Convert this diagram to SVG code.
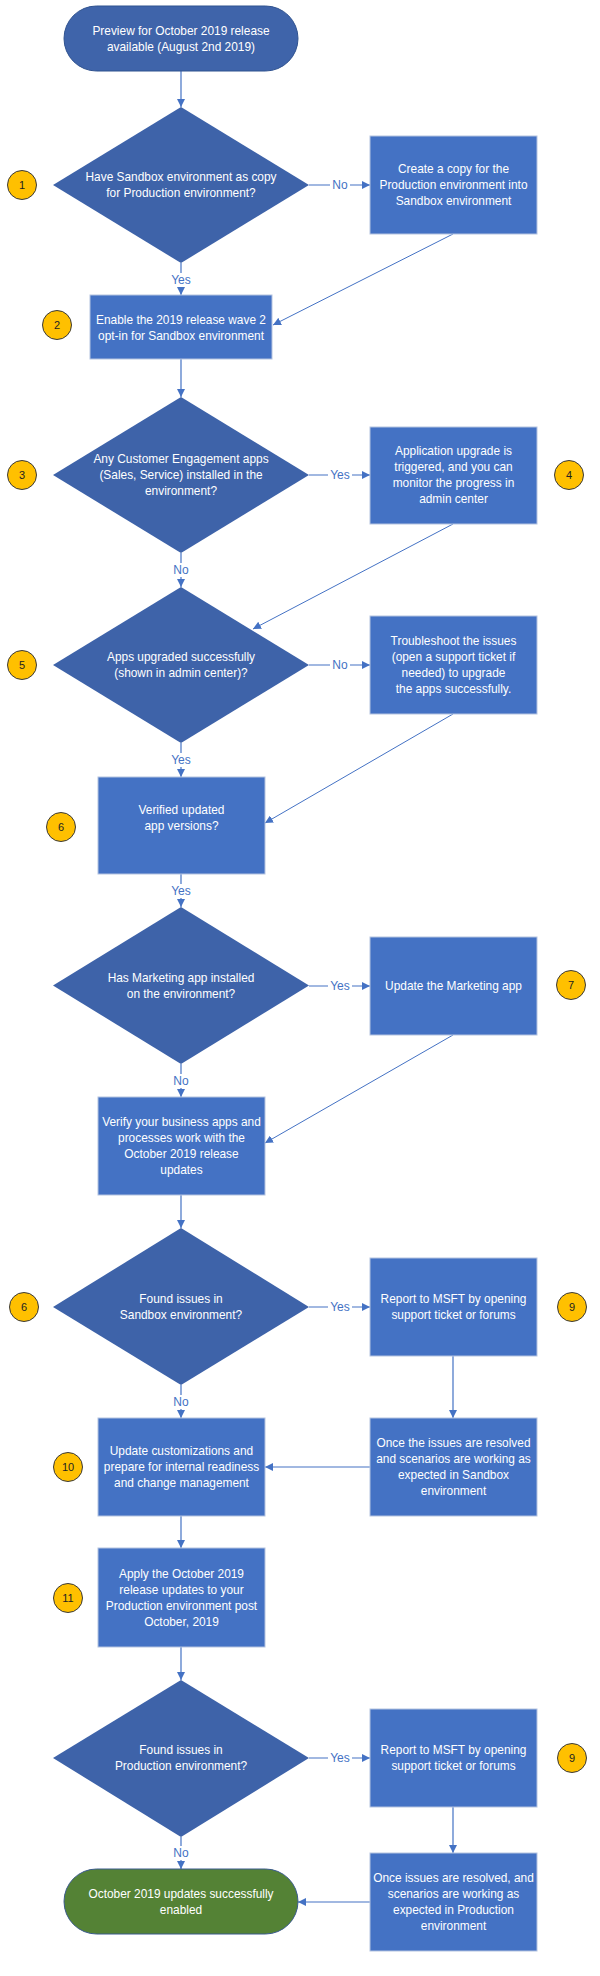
<svg xmlns="http://www.w3.org/2000/svg" width="600" height="1976" viewBox="0 0 600 1976">
<defs>
<marker id="ah" viewBox="0 0 10 10" refX="10" refY="5" markerWidth="8" markerHeight="8" markerUnits="userSpaceOnUse" orient="auto"><path d="M0,0 L10,5 L0,10 z" fill="#4472C4"/></marker>
<style>
.term{fill:#3F64AA;stroke:#2F528F;stroke-width:1}
.endt{fill:#548235;stroke:#3A5A8C;stroke-width:1}
.dia{fill:#3E63A9;stroke:none}
.box{fill:#4472C4;stroke:#B4C3E0;stroke-width:1}
.t{font-family:"Liberation Sans",Arial,sans-serif;font-size:11.9px;fill:#FFFFFF;text-anchor:middle}
.cir{fill:#FFC000;stroke:#3A3A3A;stroke-width:1}
.n{font-family:"Liberation Sans",Arial,sans-serif;font-size:11px;fill:#222222;text-anchor:middle}
.c{fill:none;stroke:#4472C4;stroke-width:1.2;marker-end:url(#ah)}
.cd{fill:none;stroke:#4472C4;stroke-width:1;marker-end:url(#ah)}
.lb{font-family:"Liberation Sans",Arial,sans-serif;font-size:12px;fill:#4472C4;text-anchor:middle}
.bg{fill:#FFFFFF}
</style>
</defs>
<rect width="600" height="1976" fill="#FFFFFF"/>
<g id="connectors">
<path class="c" d="M181,71 V107"/>
<path class="c" d="M309,185 H370"/><rect class="bg" x="330" y="178" width="20" height="14"/><text class="lb" x="340" y="189">No</text>
<path class="c" d="M181,263 V295"/><rect class="bg" x="169" y="273" width="24" height="14"/><text class="lb" x="181" y="284">Yes</text>
<path class="cd" d="M453,234 L273,325"/>
<path class="c" d="M181,359 V397"/>
<path class="c" d="M309,475 H370"/><rect class="bg" x="328" y="468" width="24" height="14"/><text class="lb" x="340" y="479">Yes</text>
<path class="c" d="M181,553 V587"/><rect class="bg" x="171" y="563" width="20" height="14"/><text class="lb" x="181" y="574">No</text>
<path class="cd" d="M453,524 L253,629"/>
<path class="c" d="M309,665 H370"/><rect class="bg" x="330" y="658" width="20" height="14"/><text class="lb" x="340" y="669">No</text>
<path class="c" d="M181,743 V777"/><rect class="bg" x="169" y="753" width="24" height="14"/><text class="lb" x="181" y="764">Yes</text>
<path class="cd" d="M453,714 L265,823"/>
<path class="c" d="M181,874 V907"/><rect class="bg" x="169" y="884" width="24" height="14"/><text class="lb" x="181" y="895">Yes</text>
<path class="c" d="M309,986 H370"/><rect class="bg" x="328" y="979" width="24" height="14"/><text class="lb" x="340" y="990">Yes</text>
<path class="c" d="M181,1064 V1097"/><rect class="bg" x="171" y="1074" width="20" height="14"/><text class="lb" x="181" y="1085">No</text>
<path class="cd" d="M453,1035 L265,1143"/>
<path class="c" d="M181,1195 V1228"/>
<path class="c" d="M309,1307 H370"/><rect class="bg" x="328" y="1300" width="24" height="14"/><text class="lb" x="340" y="1311">Yes</text>
<path class="c" d="M181,1385 V1418"/><rect class="bg" x="171" y="1395" width="20" height="14"/><text class="lb" x="181" y="1406">No</text>
<path class="c" d="M453,1356 V1418"/>
<path class="c" d="M370,1467 H265"/>
<path class="c" d="M181,1516 V1548"/>
<path class="c" d="M181,1647 V1680"/>
<path class="c" d="M309,1758 H370"/><rect class="bg" x="328" y="1751" width="24" height="14"/><text class="lb" x="340" y="1762">Yes</text>
<path class="c" d="M181,1837 V1869"/><rect class="bg" x="171" y="1846" width="20" height="14"/><text class="lb" x="181" y="1857">No</text>
<path class="c" d="M453,1807 V1853"/>
<path class="c" d="M370,1902 H298"/>
</g>
<g id="start"><rect class="term" x="64" y="6" width="234" height="65" rx="32.5"/><text class="t" x="181" y="35">Preview for October 2019 release</text><text class="t" x="181" y="51">available (August 2nd 2019)</text></g>
<g id="d1"><polygon class="dia" points="181,107 309,185 181,263 53,185"/><text class="t" x="181" y="181">Have Sandbox environment as copy</text><text class="t" x="181" y="197">for Production environment?</text></g>
<g id="b1"><rect class="box" x="370" y="136" width="167" height="98"/><text class="t" x="453.5" y="173">Create a copy for the</text><text class="t" x="453.5" y="189">Production environment into</text><text class="t" x="453.5" y="205">Sandbox environment</text></g>
<g id="b2"><rect class="box" x="90" y="295" width="182" height="64"/><text class="t" x="181" y="324">Enable the 2019 release wave 2</text><text class="t" x="181" y="340">opt-in for Sandbox environment</text></g>
<g id="d3"><polygon class="dia" points="181,397 309,475 181,553 53,475"/><text class="t" x="181" y="463">Any Customer Engagement apps</text><text class="t" x="181" y="479">(Sales, Service) installed in the</text><text class="t" x="181" y="495">environment?</text></g>
<g id="b4"><rect class="box" x="370" y="427" width="167" height="97"/><text class="t" x="453.5" y="455">Application upgrade is</text><text class="t" x="453.5" y="471">triggered, and you can</text><text class="t" x="453.5" y="487">monitor the progress in</text><text class="t" x="453.5" y="503">admin center</text></g>
<g id="d5"><polygon class="dia" points="181,587 309,665 181,743 53,665"/><text class="t" x="181" y="661">Apps upgraded successfully</text><text class="t" x="181" y="677">(shown in admin center)?</text></g>
<g id="b6"><rect class="box" x="370" y="616" width="167" height="98"/><text class="t" x="453.5" y="645">Troubleshoot the issues</text><text class="t" x="453.5" y="661">(open a support ticket if</text><text class="t" x="453.5" y="677">needed) to upgrade</text><text class="t" x="453.5" y="693">the apps successfully.</text></g>
<g id="bv"><rect class="box" x="98" y="777" width="167" height="97"/><text class="t" x="181.5" y="814">Verified updated</text><text class="t" x="181.5" y="830">app versions?</text></g>
<g id="d7"><polygon class="dia" points="181,907 309,985.5 181,1064 53,985.5"/><text class="t" x="181" y="982">Has Marketing app installed</text><text class="t" x="181" y="998">on the environment?</text></g>
<g id="b7"><rect class="box" x="370" y="937" width="167" height="98"/><text class="t" x="453.5" y="990">Update the Marketing app</text></g>
<g id="b8"><rect class="box" x="98" y="1097" width="167" height="98"/><text class="t" x="181.5" y="1126">Verify your business apps and</text><text class="t" x="181.5" y="1142">processes work with the</text><text class="t" x="181.5" y="1158">October 2019 release</text><text class="t" x="181.5" y="1174">updates</text></g>
<g id="d9"><polygon class="dia" points="181,1228 309,1307 181,1385 53,1307"/><text class="t" x="181" y="1303">Found issues in</text><text class="t" x="181" y="1319">Sandbox environment?</text></g>
<g id="b9"><rect class="box" x="370" y="1258" width="167" height="98"/><text class="t" x="453.5" y="1303">Report to MSFT by opening</text><text class="t" x="453.5" y="1319">support ticket or forums</text></g>
<g id="b10"><rect class="box" x="98" y="1418" width="167" height="98"/><text class="t" x="181.5" y="1455">Update customizations and</text><text class="t" x="181.5" y="1471">prepare for internal readiness</text><text class="t" x="181.5" y="1487">and change management</text></g>
<g id="b10r"><rect class="box" x="370" y="1418" width="167" height="98"/><text class="t" x="453.5" y="1447">Once the issues are resolved</text><text class="t" x="453.5" y="1463">and scenarios are working as</text><text class="t" x="453.5" y="1479">expected in Sandbox</text><text class="t" x="453.5" y="1495">environment</text></g>
<g id="b11"><rect class="box" x="98" y="1548" width="167" height="99"/><text class="t" x="181.5" y="1578">Apply the October 2019</text><text class="t" x="181.5" y="1594">release updates to your</text><text class="t" x="181.5" y="1610">Production environment post</text><text class="t" x="181.5" y="1626">October, 2019</text></g>
<g id="d12"><polygon class="dia" points="181,1680 309,1758 181,1837 53,1758"/><text class="t" x="181" y="1754">Found issues in</text><text class="t" x="181" y="1770">Production environment?</text></g>
<g id="b12"><rect class="box" x="370" y="1709" width="167" height="98"/><text class="t" x="453.5" y="1754">Report to MSFT by opening</text><text class="t" x="453.5" y="1770">support ticket or forums</text></g>
<g id="b13"><rect class="box" x="370" y="1853" width="167" height="98"/><text class="t" x="453.5" y="1882">Once issues are resolved, and</text><text class="t" x="453.5" y="1898">scenarios are working as</text><text class="t" x="453.5" y="1914">expected in Production</text><text class="t" x="453.5" y="1930">environment</text></g>
<g id="end"><rect class="endt" x="64" y="1869" width="234" height="65" rx="32.5"/><text class="t" x="181" y="1898">October 2019 updates successfully</text><text class="t" x="181" y="1914">enabled</text></g>
<g id="n1"><circle class="cir" cx="22" cy="185" r="14.5"/><text class="n" x="22" y="189">1</text></g>
<g id="n2"><circle class="cir" cx="57" cy="325" r="14.5"/><text class="n" x="57" y="329">2</text></g>
<g id="n3"><circle class="cir" cx="22" cy="475" r="14.5"/><text class="n" x="22" y="479">3</text></g>
<g id="n4"><circle class="cir" cx="569" cy="475" r="14.5"/><text class="n" x="569" y="479">4</text></g>
<g id="n5"><circle class="cir" cx="22" cy="665" r="14.5"/><text class="n" x="22" y="669">5</text></g>
<g id="n6"><circle class="cir" cx="61" cy="827" r="14.5"/><text class="n" x="61" y="831">6</text></g>
<g id="n7"><circle class="cir" cx="571" cy="985" r="14.5"/><text class="n" x="571" y="989">7</text></g>
<g id="n6b"><circle class="cir" cx="24" cy="1307" r="14.5"/><text class="n" x="24" y="1311">6</text></g>
<g id="n9"><circle class="cir" cx="572" cy="1307" r="14.5"/><text class="n" x="572" y="1311">9</text></g>
<g id="n10"><circle class="cir" cx="68" cy="1467" r="14.5"/><text class="n" x="68" y="1471">10</text></g>
<g id="n11"><circle class="cir" cx="68" cy="1598" r="14.5"/><text class="n" x="68" y="1602">11</text></g>
<g id="n9b"><circle class="cir" cx="572" cy="1758" r="14.5"/><text class="n" x="572" y="1762">9</text></g>
</svg>
